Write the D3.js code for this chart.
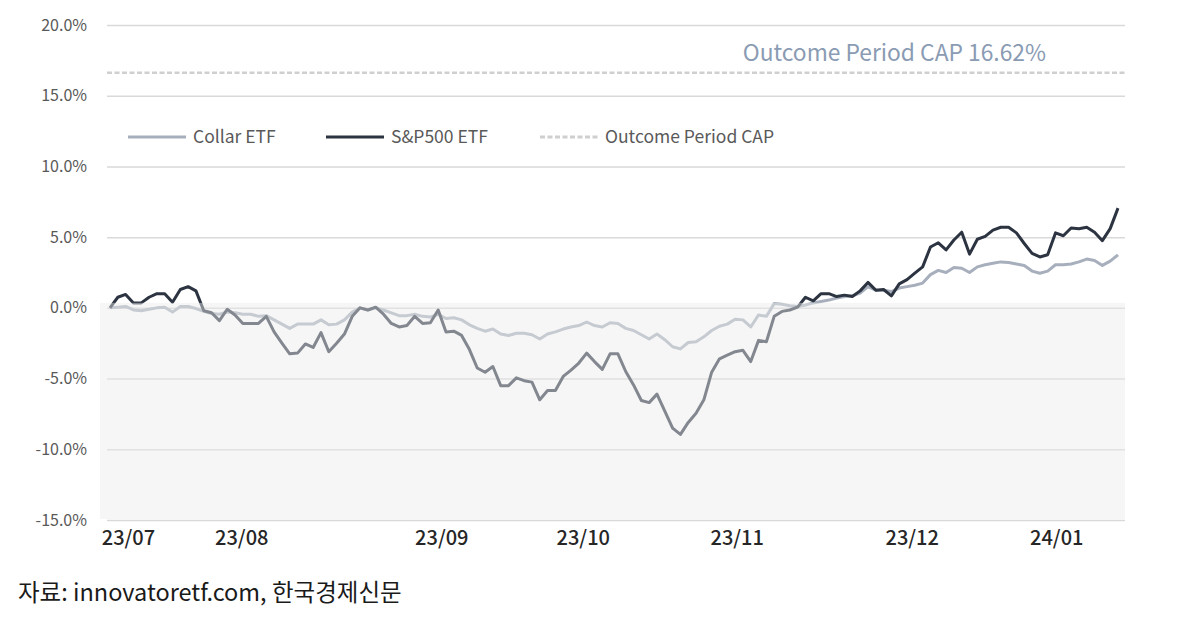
<!DOCTYPE html>
<html><head><meta charset="utf-8">
<script src="https://cdn.jsdelivr.net/npm/d3@7"></script>
<style>
html,body{margin:0;padding:0;background:#fff;}
svg{display:block;font-family:"Noto Sans CJK KR","Noto Sans",sans-serif;}
</style></head>
<body>
<svg id="chart" width="1200" height="619"></svg>
<script>
// ---- data ----
const spValues = [
 0.0,0.75,0.95,0.35,0.35,0.75,1.0,1.0,0.4,1.3,1.5,1.2,-0.2,-0.35,-0.9,-0.1,-0.5,-1.1,-1.1,-1.1,
 -0.6,-1.7,-2.5,-3.25,-3.2,-2.55,-2.8,-1.75,-3.1,-2.5,-1.85,-0.6,0.0,-0.15,0.05,-0.45,-1.1,-1.35,-1.25,-0.6,
 -1.1,-1.05,-0.15,-1.7,-1.65,-1.95,-2.95,-4.25,-4.55,-4.15,-5.5,-5.5,-4.95,-5.15,-5.25,-6.5,-5.85,-5.85,-4.85,-4.4,
 -3.9,-3.2,-3.8,-4.35,-3.25,-3.25,-4.5,-5.45,-6.55,-6.7,-6.1,-7.3,-8.5,-8.95,-8.1,-7.45,-6.5,-4.55,-3.6,-3.35,
 -3.1,-3.0,-3.8,-2.3,-2.4,-0.6,-0.25,-0.15,0.05,0.75,0.5,1.0,1.0,0.8,0.9,0.8,1.2,1.8,1.25,1.3,
 0.85,1.7,2.0,2.45,2.9,4.3,4.6,4.1,4.8,5.35,3.8,4.85,5.05,5.5,5.7,5.7,5.3,4.55,3.85,3.6,
 3.75,5.3,5.1,5.65,5.6,5.7,5.35,4.75,5.6,7.05
];
const collarValues = [
 0.0,0.05,0.1,-0.15,-0.2,-0.1,0.0,0.05,-0.3,0.1,0.1,-0.05,-0.25,-0.4,-0.45,-0.3,-0.35,-0.45,-0.45,-0.6,
 -0.55,-0.85,-1.15,-1.45,-1.15,-1.15,-1.15,-0.85,-1.2,-1.15,-0.85,-0.3,0.0,-0.15,0.0,-0.15,-0.35,-0.55,-0.55,-0.45,
 -0.6,-0.65,-0.45,-0.75,-0.7,-0.85,-1.2,-1.45,-1.65,-1.5,-1.85,-1.95,-1.8,-1.8,-1.9,-2.2,-1.85,-1.7,-1.5,-1.35,
 -1.25,-1.0,-1.25,-1.35,-1.05,-1.1,-1.45,-1.6,-1.9,-2.2,-1.85,-2.25,-2.75,-2.9,-2.45,-2.4,-2.05,-1.6,-1.3,-1.15,
 -0.8,-0.85,-1.35,-0.5,-0.6,0.3,0.25,0.15,0.1,0.2,0.35,0.45,0.55,0.7,0.8,0.85,1.05,1.5,1.25,1.25,
 1.15,1.4,1.5,1.6,1.75,2.35,2.65,2.5,2.85,2.8,2.5,2.9,3.05,3.15,3.25,3.2,3.1,3.0,2.6,2.45,
 2.6,3.05,3.05,3.1,3.25,3.45,3.35,3.0,3.3,3.75
];
const capValue = 16.62;
const tickLabels = ["23/07","23/08","23/09","23/10","23/11","23/12","24/01"];
const tickIndex = [2.3, 16.8, 42.4, 60.5, 80.2, 102.6, 121.1];
const yTicks = [-15,-10,-5,0,5,10,15,20];
const seriesNames = ["Collar ETF","S&P500 ETF","Outcome Period CAP"];
const capLabel = "Outcome Period CAP 16.62%";
const sourceText = "자료: innovatoretf.com, 한국경제신문";

// ---- layout ----
const svg = d3.select("#chart");
const left = 107, right = 1125;
const x = d3.scaleLinear().domain([0, spValues.length - 1]).range([110, 1118]);
const y = d3.scaleLinear().domain([-15, 20]).range([520, 25]);

const colCollar = "#a7afbd", colSP = "#2c3341", colCap = "#cfcfcf";

// gridlines + y labels
const yAxis = d3.axisLeft(y).tickValues(yTicks)
  .tickFormat(d => d.toFixed(1) + "%")
  .tickSizeInner(-(right - left)).tickSizeOuter(0).tickPadding(20);
const gy = svg.append("g").attr("transform", `translate(${left},0)`).call(yAxis);
gy.select(".domain").remove();
gy.selectAll(".tick line").attr("stroke", "#d9d9d9").attr("stroke-width", 1.5);
gy.selectAll(".tick text").attr("fill", "#595959").style("font-size", "16px")
  .style("font-family", "'Noto Sans CJK KR','Noto Sans',sans-serif");

// cap dashed line
svg.append("line").attr("x1", left).attr("x2", right)
  .attr("y1", y(capValue)).attr("y2", y(capValue))
  .attr("stroke", colCap).attr("stroke-width", 2.5).attr("stroke-dasharray", "5,2.5");
svg.append("text").attr("x", 1046).attr("y", y(capValue) - 12)
  .attr("text-anchor", "end").attr("fill", "#8a9bb3").style("font-size", "22.8px")
  .text(capLabel);

// lines
const line = d3.line().x((d, i) => x(i)).y(d => y(d)).curve(d3.curveLinear);
svg.append("path").datum(collarValues).attr("d", line).attr("fill", "none")
  .attr("stroke", colCollar).attr("stroke-width", 3).attr("stroke-linejoin", "round");
svg.append("path").datum(spValues).attr("d", line).attr("fill", "none")
  .attr("stroke", colSP).attr("stroke-width", 3).attr("stroke-linejoin", "round");

// negative-zone overlay
svg.append("rect").attr("x", 100).attr("y", y(0) - 5)
  .attr("width", right - 100).attr("height", y(-15) - y(0) + 4)
  .attr("fill", "#ebebeb").attr("opacity", 0.46);

// x labels
const xAxis = d3.axisBottom(x).tickValues(tickIndex)
  .tickFormat((d, i) => tickLabels[i]).tickSize(0).tickPadding(11);
const gx = svg.append("g").attr("transform", `translate(0,${y(-15)})`).call(xAxis);
gx.select(".domain").remove();
gx.selectAll(".tick text").attr("fill", "#262626").style("font-size", "20px")
  .style("font-weight", "500")
  .style("font-family", "'Noto Sans CJK KR','Noto Sans',sans-serif");

// legend
const legY = 137;
const legend = [
  {name: seriesNames[0], x: 128, color: colCollar, dash: null},
  {name: seriesNames[1], x: 326, color: colSP, dash: null},
  {name: seriesNames[2], x: 540, color: colCap, dash: "5,2.5"}
];
const lg = svg.append("g");
legend.forEach(l => {
  lg.append("line").attr("x1", l.x).attr("x2", l.x + 58).attr("y1", legY).attr("y2", legY)
    .attr("stroke", l.color).attr("stroke-width", 3).attr("stroke-dasharray", l.dash);
  lg.append("text").attr("x", l.x + 65).attr("y", legY + 6).attr("fill", "#595959")
    .style("font-size", "17.5px").text(l.name);
});

// source
svg.append("text").attr("x", 18).attr("y", 601).attr("fill", "#1a1a1a")
  .style("font-size", "23.5px").text(sourceText);
</script>
</body></html>
